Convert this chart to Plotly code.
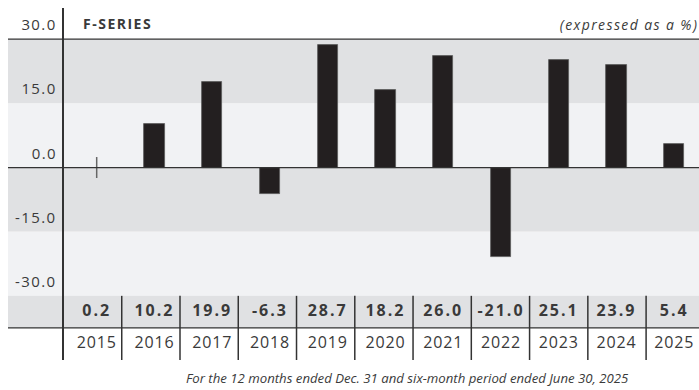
import plotly.graph_objects as go

years = ["2015", "2016", "2017", "2018", "2019", "2020", "2021", "2022", "2023", "2024", "2025"]
values = [0.2, 10.2, 19.9, -6.3, 28.7, 18.2, 26.0, -21.0, 25.1, 23.9, 5.4]
y_ticks = [30, 15, 0, -15, -30]
y_tick_labels = ["30.0", "15.0", "0.0", "-15.0", "-30.0"]
title_text = "F-SERIES"
unit_text = "(expressed as a %)"
footnote = "For the 12 months ended Dec. 31 and six-month period ended June 30, 2025"

FONT = "Open Sans"
TXT = "#3a3a3a"
DARK_BAND = "#e0e1e3"
LIGHT_BAND = "#f1f2f4"
BAR = "#231f20"
LINE = "#333333"

Y0, Y1 = -45.0, 37.3          # y range (includes the table rows below the chart)
ROW_TOP, ROW_MID, ROW_BOT = -30.0, -37.5, -45.0
n = len(years)
idx = list(range(n))

def yp(v):
    return (v - Y0) / (Y1 - Y0)

LEFT_EXT = -56 / 635  # lines/bands extend left into the label area

fig = go.Figure()

# bars (values big enough to draw as a bar)
bar_y = [v if abs(v) >= 1 else None for v in values]
fig.add_trace(go.Bar(
    x=idx, y=bar_y, width=0.35,
    marker=dict(color=BAR, line=dict(color="#5a5a5a", width=0.8)),
    hoverinfo="skip", showlegend=False,
))
# tiny values shown as a small tick on the zero line
tick_y = [0 if abs(v) < 1 else None for v in values]
fig.add_trace(go.Scatter(
    x=idx, y=tick_y, mode="markers",
    marker=dict(symbol="line-ns", size=15, line=dict(color="#666666", width=1.5)),
    hoverinfo="skip", showlegend=False,
))
# table values row
fig.add_trace(go.Scatter(
    x=idx, y=[(ROW_TOP + ROW_MID) / 2] * n, mode="text",
    text=[f"{v:.1f}" for v in values],
    textfont=dict(family=FONT, size=16, color=TXT, weight="bold"),
    hoverinfo="skip", showlegend=False,
))
# table years row
fig.add_trace(go.Scatter(
    x=idx, y=[(ROW_MID + ROW_BOT) / 2] * n, mode="text",
    text=years,
    textfont=dict(family=FONT, size=16, color=TXT),
    hoverinfo="skip", showlegend=False,
))
# invisible trace on the table-column axis
fig.add_trace(go.Scatter(x=[0], y=[None], xaxis="x2", mode="markers",
                         hoverinfo="skip", showlegend=False))

shapes = []
# background bands
for i in range(len(y_ticks) - 1):
    hi, lo = y_ticks[i], y_ticks[i + 1]
    shapes.append(dict(type="rect", xref="paper", yref="paper",
                       x0=LEFT_EXT, x1=1, y0=yp(lo), y1=yp(hi),
                       fillcolor=DARK_BAND if i % 2 == 0 else LIGHT_BAND,
                       line=dict(width=0), layer="below"))
# values row band
shapes.append(dict(type="rect", xref="paper", yref="paper",
                   x0=LEFT_EXT, x1=1, y0=yp(ROW_MID), y1=yp(ROW_TOP),
                   fillcolor=DARK_BAND, line=dict(width=0), layer="below"))
# horizontal rules
for v in [y_ticks[0], 0, ROW_MID]:
    shapes.append(dict(type="line", xref="paper", yref="paper",
                       x0=LEFT_EXT, x1=1, y0=yp(v), y1=yp(v),
                       line=dict(color=LINE, width=1.3), layer="above"))
# column separators
for k in range(n - 1):
    shapes.append(dict(type="line", xref="x2", yref="y",
                       x0=k + 0.5, x1=k + 0.5, y0=ROW_TOP, y1=ROW_BOT,
                       line=dict(color=LINE, width=1.5), layer="above"))

annotations = []
for v, lab in zip(y_ticks, y_tick_labels):
    annotations.append(dict(xref="paper", yref="paper", x=-5 / 635, y=yp(v),
                            xanchor="right", yanchor="bottom", yshift=3, align="right",
                            text=lab, showarrow=False,
                            font=dict(family=FONT, size=15, color=TXT)))
annotations.append(dict(xref="paper", yref="paper", x=17 / 635, y=yp(y_ticks[0]),
                        xanchor="left", yanchor="bottom", yshift=4, align="left",
                        text=f"<b>{title_text}</b>", showarrow=False,
                        font=dict(family=FONT, size=14, color=TXT)))
annotations.append(dict(xref="paper", yref="paper", x=636 / 635, y=yp(y_ticks[0]),
                        xanchor="right", yanchor="bottom", yshift=3, align="right",
                        text=f"<i>{unit_text}</i>", showarrow=False,
                        font=dict(family=FONT, size=14, color=TXT)))
annotations.append(dict(xref="paper", yref="paper", x=0.541, y=-18 / 352,
                        xanchor="center", yanchor="middle",
                        text=f"<i>{footnote}</i>", showarrow=False,
                        font=dict(family=FONT, size=13.2, color=TXT)))

fig.update_layout(
    width=699, height=390,
    margin=dict(l=64, r=0, t=8, b=30),
    paper_bgcolor="white", plot_bgcolor="rgba(0,0,0,0)",
    xaxis=dict(range=[-0.566, 10.429], visible=False, fixedrange=True),
    xaxis2=dict(range=[-0.491, 10.408], overlaying="x", visible=False),
    yaxis=dict(range=[Y0, Y1], showgrid=False, zeroline=False,
               showticklabels=False, ticks="",
               showline=True, linecolor=LINE, linewidth=1.5),
    shapes=shapes, annotations=annotations,
    bargap=0,
)

# letter-spacing (tracking) like the reference typography
post_script = """
var gd = document.getElementById('{plot_id}');
function track(){
  var nLab = %d;
  gd.querySelectorAll('g.annotation').forEach(function(g){
    var i = parseInt(g.getAttribute('data-index'));
    var t = g.querySelector('text.annotation-text');
    if(!t) return;
    if(i < nLab){ t.style.letterSpacing = '1.4px'; }
    else if(i === nLab){ t.style.letterSpacing = '1.5px'; }
    else if(i === nLab + 1){ t.style.letterSpacing = '1.4px'; }
  });
  var tr = gd.querySelectorAll('.cartesianlayer .subplot.xy .scatterlayer g.trace');
  if(tr.length >= 3){
    tr[1].querySelectorAll('text').forEach(function(t){ t.style.letterSpacing = '2px'; });
    tr[2].querySelectorAll('text').forEach(function(t){ t.style.letterSpacing = '0.8px'; });
  }
}
track();
""" % len(y_ticks)

fig.write_html("out.html", post_script=post_script)
